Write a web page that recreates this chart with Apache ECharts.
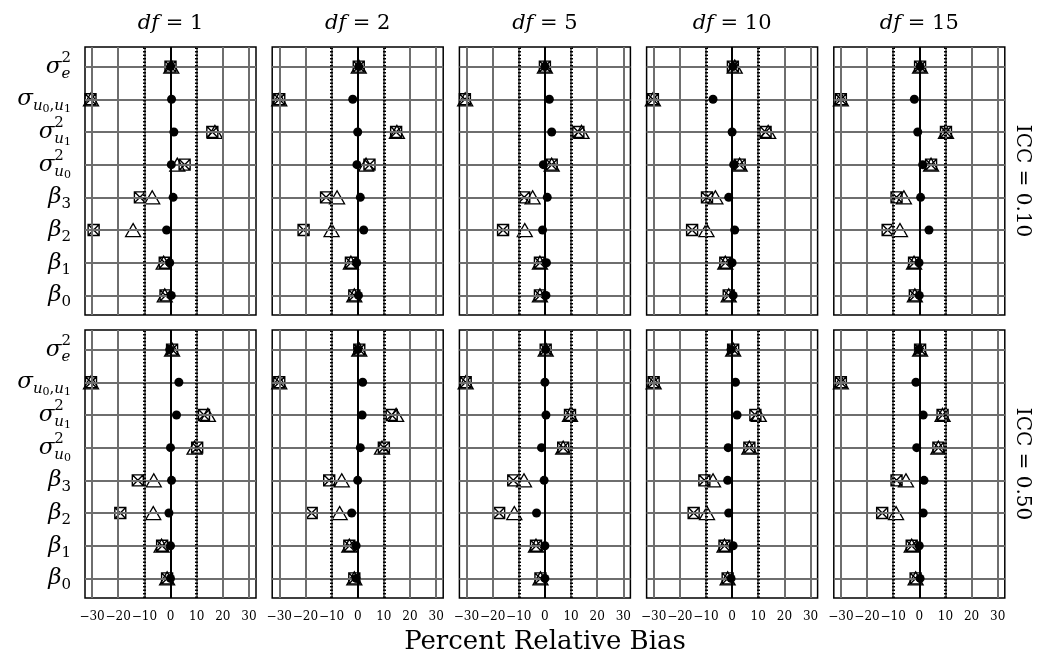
<!DOCTYPE html>
<html>
<head>
<meta charset="utf-8">
<script src="https://cdn.jsdelivr.net/npm/echarts@6/dist/echarts.min.js"></script>
<style>
html, body {margin: 0; padding: 0; background: #fff;}
#main {width: 1042px; height: 660px;}
</style>
</head>
<body>
<div id="main"></div>
<script>
// parameters, bottom to top (y index 0..7)
var paramBase = ['β', 'β', 'β', 'β', 'σ', 'σ', 'σ', 'σ'];
var paramSup = ['', '', '', '', '2', '2', '', '2'];
var paramSub = ['0', '1', '2', '3', 'u_0', 'u_1', 'u_0,u_1', 'e'];

var dfLabels = ['1', '2', '5', '10', '15'];
var iccLabels = ['0.10', '0.50'];
var xTicks = [-30, -20, -10, 0, 10, 20, 30];

// ICC = 0.10, one array per df, values in parameter order above
var circle10 = [
    [0.3, -0.3, -1.5, 1.0, 0.3, 1.3, 0.4, 0],
    [0.3, -0.4, 2.3, 1.0, -0.3, 0, -1.9, 0.4],
    [0.4, 0.6, -0.9, 0.9, -0.6, 2.6, 1.7, 0],
    [0.4, 0, 1.0, -1.3, 0.6, 0, -7.3, 0.3],
    [0, -0.1, 3.7, 0.5, 1.3, -0.6, -1.9, 0.3]
];
var triangle10 = [
    [-2.2, -2.6, -14.3, -7.0, 2.6, 17.0, -30.4, 0.3],
    [-1.3, -2.6, -10.0, -7.9, 3.2, 15.0, -30.0, 0.4],
    [-1.9, -1.9, -7.7, -4.7, 2.6, 14.0, -30.5, 0],
    [-1.3, -2.6, -9.8, -6.4, 2.9, 13.8, -30.3, 1.0],
    [-1.7, -2.0, -7.4, -5.9, 4.5, 10.2, -30.0, 0.3]
];
var square10 = [
    [-1.9, -2.2, -29.4, -11.7, 5.4, 16.0, -30.6, 0],
    [-1.3, -2.6, -20.7, -12.1, 4.5, 14.7, -30.0, 0.4],
    [-1.9, -1.9, -16.0, -7.9, 2.6, 12.8, -30.6, 0],
    [-1.3, -2.6, -15.3, -9.6, 2.9, 12.8, -30.3, 0.3],
    [-1.7, -2.0, -12.1, -8.7, 4.5, 10.2, -30.0, 0.3]
];

// ICC = 0.50
var circle50 = [
    [0, 0, -0.6, 0.4, 0, 2.3, 3.2, -0.3],
    [-0.6, -0.6, -2.3, 0, 1.0, 1.7, 1.9, 0],
    [0, 0, -3.2, -0.3, -1.3, 0.4, 0, 0.3],
    [-0.4, 0.4, -1.3, -1.7, -1.5, 1.9, 1.3, -0.4],
    [0.3, 0, 1.5, 1.8, -1.0, 1.5, -1.3, -0.3]
];
var triangle50 = [
    [-1.3, -3.4, -6.6, -6.4, 9.2, 14.3, -30.4, 0.6],
    [-1.3, -3.2, -6.9, -6.1, 9.3, 14.7, -30.0, 0.6],
    [-1.7, -3.4, -11.7, -8.0, 7.0, 9.6, -30.3, 0.3],
    [-1.7, -2.9, -9.6, -7.3, 6.6, 10.2, -30.0, 0.4],
    [-1.4, -2.9, -8.9, -5.1, 7.3, 8.9, -30.0, 0.3]
];
var square50 = [
    [-1.3, -3.2, -19.2, -12.5, 10.2, 12.8, -30.4, 0.6],
    [-1.3, -3.2, -17.6, -10.9, 10.0, 13.0, -30.0, 0.6],
    [-1.7, -3.4, -17.5, -12.1, 7.0, 9.6, -30.3, 0.3],
    [-1.7, -2.9, -14.7, -10.6, 6.6, 8.9, -30.0, 0.4],
    [-1.4, -2.9, -14.2, -8.7, 7.3, 8.9, -30.0, 0.3]
];

var rows = [
    {circle: circle10, triangle: triangle10, square: square10},
    {circle: circle50, triangle: triangle50, square: square50}
];

var FONT = '"DejaVu Serif", "Liberation Serif", serif';
var boxX = 'path://M0 0H10V10H0ZM0 0L10 10M10 0L0 10';

var chart = echarts.init(document.getElementById('main'));

var grids = [], xAxes = [], yAxes = [], series = [];
var rowTop = [47, 330];

function toPoints(vals) {
    return vals.map(function (v, i) { return [v, i]; });
}

function fmtTick(v) {
    return v < 0 ? '\u2212' + (-v) : String(v);
}

rows.forEach(function (row, r) {
    dfLabels.forEach(function (df, c) {
        var g = grids.length;
        grids.push({
            left: 85 + c * 187.2, top: rowTop[r], width: 171, height: 268,
            show: true, backgroundColor: '#fff', borderColor: '#000', borderWidth: 1.5
        });
        xAxes.push({
            type: 'value', gridIndex: g, min: -32.7, max: 32.7,
            axisLine: {show: false},
            splitLine: {show: false},
            axisTick: {show: r === 1, customValues: xTicks, length: 6, lineStyle: {color: '#000', width: 1}},
            axisLabel: {
                show: r === 1, customValues: xTicks, formatter: fmtTick, margin: 13,
                showMinLabel: true, showMaxLabel: true, hideOverlap: false,
                color: '#000', fontFamily: FONT, fontSize: 12
            }
        });
        yAxes.push({
            type: 'value', gridIndex: g, min: -0.6, max: 7.6,
            axisLine: {show: false},
            splitLine: {show: false},
            axisTick: {show: c === 0, customValues: [0, 1, 2, 3, 4, 5, 6, 7], length: 7, lineStyle: {color: '#000', width: 1}},
            axisLabel: {show: false}
        });

        // grid and reference lines
        var lines = [];
        xTicks.forEach(function (v) {
            lines.push({xAxis: v, lineStyle: {color: '#6e6e6e', width: 2, type: 'solid'}});
        });
        paramBase.forEach(function (b, i) {
            lines.push({yAxis: i, lineStyle: {color: '#6e6e6e', width: 2, type: 'solid'}});
        });
        lines.push({xAxis: -10, lineStyle: {color: '#000', width: 3, type: [1.5, 2]}});
        lines.push({xAxis: 10, lineStyle: {color: '#000', width: 3, type: [1.5, 2]}});
        lines.push({xAxis: 0, lineStyle: {color: '#000', width: 2, type: 'solid'}});

        series.push({
            type: 'scatter', xAxisIndex: g, yAxisIndex: g, data: [], z: 1, silent: true,
            markLine: {silent: true, animation: false, symbol: ['none', 'none'], label: {show: false}, data: lines}
        });
        series.push({
            name: 'triangle', type: 'scatter', xAxisIndex: g, yAxisIndex: g, z: 3,
            symbol: 'triangle', symbolSize: [15, 13],
            itemStyle: {color: 'rgba(0,0,0,0)', borderColor: '#000', borderWidth: 1.3, opacity: 1},
            data: toPoints(row.triangle[c])
        });
        series.push({
            name: 'square', type: 'scatter', xAxisIndex: g, yAxisIndex: g, z: 4,
            symbol: boxX, symbolSize: 11,
            itemStyle: {color: 'rgba(0,0,0,0)', borderColor: '#000', borderWidth: 1.4, opacity: 1},
            data: toPoints(row.square[c])
        });
        series.push({
            name: 'circle', type: 'scatter', xAxisIndex: g, yAxisIndex: g, z: 5,
            symbol: 'circle', symbolSize: 9,
            itemStyle: {color: '#000', opacity: 1},
            data: toPoints(row.circle[c])
        });
    });
});

chart.setOption({
    animation: false,
    backgroundColor: '#fff',
    grid: grids,
    xAxis: xAxes,
    yAxis: yAxes,
    series: series
});

// text pieces: titles, strip labels, y labels
var canvas = document.createElement('canvas');
var ctx = canvas.getContext('2d');
function textW(str, size, italic) {
    ctx.font = (italic ? 'italic ' : '') + size + 'px ' + FONT;
    return ctx.measureText(str).width;
}

var graphics = [];

dfLabels.forEach(function (df, c) {
    graphics.push({
        type: 'text', x: 85 + c * 187.2 + 85.5, y: 24,
        style: {
            text: '{i|df} = ' + df, align: 'center', verticalAlign: 'middle',
            fontFamily: FONT, fontSize: 21, fill: '#000',
            rich: {i: {fontStyle: 'italic', fontFamily: FONT, fontSize: 21, fill: '#000'}}
        }
    });
});

iccLabels.forEach(function (icc, r) {
    var top = chart.convertToPixel({gridIndex: r * 5 + 4}, [32.7, 7.6]);
    var bot = chart.convertToPixel({gridIndex: r * 5 + 4}, [32.7, -0.6]);
    graphics.push({
        type: 'text', x: top[0] + 17, y: (top[1] + bot[1]) / 2, rotation: -Math.PI / 2,
        style: {
            text: 'ICC = ' + icc, align: 'center', verticalAlign: 'middle',
            fontFamily: FONT, fontSize: 20, fill: '#000'
        }
    });
});

graphics.push({
    type: 'text', x: 545, y: 642,
    style: {
        text: 'Percent Relative Bias', align: 'center', verticalAlign: 'middle',
        fontFamily: FONT, fontSize: 26, fill: '#000'
    }
});

// y labels with sub/superscripts
var baseSize = 23, subSize = 15, sub2Size = 11;
[0, 1].forEach(function (r) {
    paramBase.forEach(function (b, i) {
        var p = chart.convertToPixel({gridIndex: r * 5}, [-32.7, i]);
        var cy = p[1];
        var xr = 71;
        // split subscript into level-1 / level-2 parts
        var parts = [];
        var s = paramSub[i];
        for (var k = 0; k < s.length; k++) {
            if (s[k] === '_') {
                parts.push({t: s[k + 1], lvl: 2});
                k++;
            } else {
                parts.push({t: s[k], lvl: 1});
            }
        }
        var subW = 0;
        parts.forEach(function (pt) {
            var italic = /[a-z]/.test(pt.t);
            pt.italic = italic;
            pt.size = pt.lvl === 1 ? subSize : sub2Size;
            pt.w = textW(pt.t, pt.size, italic);
            subW += pt.w;
        });
        var supW = paramSup[i] ? textW(paramSup[i], subSize, false) : 0;
        var scriptW = Math.max(subW, supW);
        var x0 = xr - scriptW;
        graphics.push({
            type: 'text', x: x0, y: cy,
            style: {text: b, align: 'right', verticalAlign: 'middle', fontFamily: FONT,
                fontStyle: 'italic', fontSize: baseSize, fill: '#000'}
        });
        if (paramSup[i]) {
            graphics.push({
                type: 'text', x: x0, y: cy - 9,
                style: {text: paramSup[i], align: 'left', verticalAlign: 'middle', fontFamily: FONT,
                    fontSize: subSize, fill: '#000'}
            });
        }
        var xx = x0;
        parts.forEach(function (pt) {
            graphics.push({
                type: 'text', x: xx, y: cy + (pt.lvl === 1 ? 7 : 10),
                style: {text: pt.t, align: 'left', verticalAlign: 'middle', fontFamily: FONT,
                    fontStyle: pt.italic ? 'italic' : 'normal', fontSize: pt.size, fill: '#000'}
            });
            xx += pt.w;
        });
    });
});

chart.setOption({graphic: graphics});
</script>
</body>
</html>
